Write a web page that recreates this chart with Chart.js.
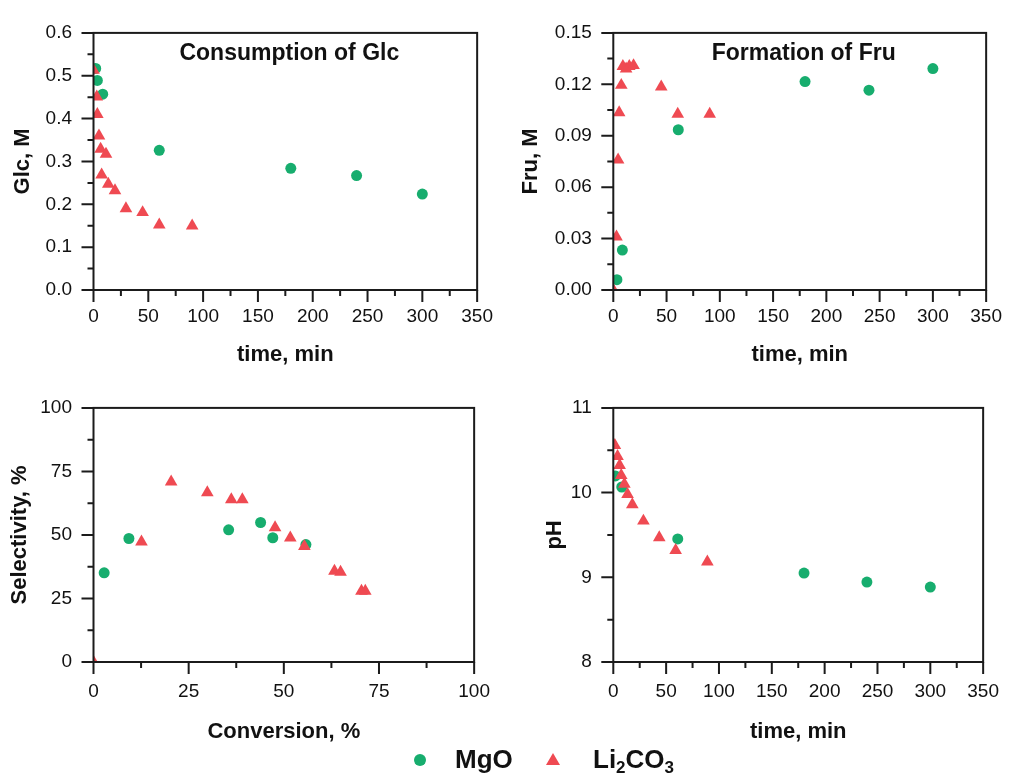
<!DOCTYPE html>
<html>
<head>
<meta charset="utf-8">
<script src="https://cdn.jsdelivr.net/npm/chart.js@4"></script>
<style>
  html, body { margin: 0; padding: 0; background: #fff; }
  #wrap { position: relative; width: 1017px; height: 776px; overflow: hidden; font-family: 'Liberation Sans', Arial, sans-serif; }
  canvas { position: absolute; }
  #legend { position: absolute; left: 0; top: 0; width: 1017px; height: 776px; pointer-events: none; z-index: 2; }
  #legend .dot { position: absolute; left: 414px; top: 754px; width: 12px; height: 12px; border-radius: 50%; background: #17ad6e; }
  #legend .tri { position: absolute; left: 546px; top: 753px; width: 0; height: 0;
    border-left: 7px solid transparent; border-right: 7px solid transparent; border-bottom: 12px solid #ef4a52; }
  #legend .lbl { position: absolute; top: 744px; font-weight: bold; font-size: 26px; line-height: 30px; color: #111; }
  #legend sub { font-size: 17px; line-height: 0; vertical-align: -5px; }
</style>
</head>
<body>
<div id="wrap">
  <canvas id="glc" width="508" height="375" style="left:0;top:0"></canvas>
  <canvas id="fru" width="509" height="375" style="left:508px;top:0"></canvas>
  <canvas id="sel" width="508" height="401" style="left:0;top:375px"></canvas>
  <canvas id="ph" width="509" height="401" style="left:508px;top:375px"></canvas>
  <div id="legend">
    <span class="dot"></span><span class="lbl" style="left:455px">MgO</span>
    <span class="tri"></span><span class="lbl" style="left:593px">Li<sub>2</sub>CO<sub>3</sub></span>
  </div>
</div>
<script>
// Glc / Fru / selectivity / pH, MgO vs Li2CO3
const GREEN = '#17ad6e';
const RED = '#ef4a52';
const FONT = "'Liberation Sans', Arial, sans-serif";

// Consumption of Glc
const glcMgoTime = [2, 3.5, 8.4, 60, 180, 240, 300];
const glcMgo = [0.517, 0.489, 0.457, 0.326, 0.284, 0.267, 0.224];
const glcLiTime = [0, 3, 3.5, 5, 6.5, 11.4, 7.4, 13.5, 19.6, 29.6, 44.8, 60, 90];
const glcLi = [0.513, 0.451, 0.410, 0.360, 0.329, 0.317, 0.269, 0.247, 0.232, 0.190, 0.181, 0.152, 0.150];

// Formation of Fru
const fruMgoTime = [3.4, 8.5, 61, 180, 240, 300];
const fruMgo = [0.006, 0.0233, 0.0935, 0.1216, 0.1166, 0.1292];
const fruLiTime = [0, 3, 4.5, 5.5, 7.5, 9, 12, 15, 19, 45, 60.5, 90.5];
const fruLi = [0, 0.031, 0.076, 0.1035, 0.1195, 0.1305, 0.129, 0.1305, 0.131, 0.1185, 0.1026, 0.1026];

// Selectivity vs conversion
const selMgoConv = [2.8, 9.3, 35.5, 43.9, 47.1, 55.8];
const selMgo = [35.1, 48.6, 52.0, 54.9, 48.9, 46.2];
const selLiConv = [0, 12.6, 20.4, 29.9, 36.2, 39.1, 47.7, 51.7, 55.4, 63.3, 64.9, 70.4, 71.4];
const selLi = [0, 47.3, 70.9, 66.7, 63.9, 63.9, 52.9, 48.9, 45.5, 35.8, 35.4, 27.9, 27.9];

// pH
const phMgoTime = [2, 8, 61, 180.5, 240, 300];
const phMgo = [10.197, 10.066, 9.453, 9.05, 8.944, 8.885];
const phLiTime = [1.5, 4, 6, 7.5, 10.5, 13.5, 18, 28.5, 43.5, 59, 89];
const phLi = [10.557, 10.428, 10.323, 10.205, 10.10, 9.98, 9.859, 9.665, 9.468, 9.319, 9.182];

Chart.defaults.font.family = FONT;
Chart.defaults.color = '#111';

// frame + outward major/minor ticks, placed with the chart's own scales
const frameTicks = {
  id: 'frameTicks',
  afterDatasetsDraw(chart) {
    const { ctx, chartArea: a, scales: { x, y } } = chart;
    ctx.save();
    ctx.strokeStyle = '#1b1b1b';
    ctx.lineWidth = 2;
    ctx.strokeRect(a.left, a.top, a.right - a.left, a.bottom - a.top);
    ctx.beginPath();
    x.ticks.forEach((t, i) => {
      const px = x.getPixelForValue(t.value);
      ctx.moveTo(px, a.bottom);
      ctx.lineTo(px, a.bottom + 12);
      if (i < x.ticks.length - 1) {
        const mx = x.getPixelForValue((t.value + x.ticks[i + 1].value) / 2);
        ctx.moveTo(mx, a.bottom);
        ctx.lineTo(mx, a.bottom + 6);
      }
    });
    y.ticks.forEach((t, i) => {
      const py = y.getPixelForValue(t.value);
      ctx.moveTo(a.left, py);
      ctx.lineTo(a.left - 12, py);
      if (i < y.ticks.length - 1) {
        const my = y.getPixelForValue((t.value + y.ticks[i + 1].value) / 2);
        ctx.moveTo(a.left, my);
        ctx.lineTo(a.left - 6, my);
      }
    });
    ctx.stroke();
    ctx.restore();
  }
};

// bold caption inside the plot, near the top
const panelTitle = {
  id: 'panelTitle',
  afterDraw(chart, args, opts) {
    if (!opts.text) return;
    const { ctx, chartArea: a } = chart;
    ctx.save();
    ctx.font = 'bold 23px ' + FONT;
    ctx.fillStyle = '#111';
    ctx.textAlign = 'center';
    ctx.textBaseline = 'middle';
    ctx.fillText(opts.text, (a.left + a.right) / 2 + 4, a.top + 21);
    ctx.restore();
  }
};

function pts(xs, ys) {
  return ys.map((v, i) => ({ x: xs[i], y: v }));
}

function makePanel(id, p) {
  const tickFont = { size: 19 };
  const titleFont = { size: 22, weight: 'bold' };
  return new Chart(document.getElementById(id), {
    type: 'scatter',
    data: {
      datasets: [{
        label: 'MgO',
        data: pts(p.mgoX, p.mgoY),
        pointStyle: 'circle',
        pointRadius: 5.5,
        backgroundColor: GREEN,
        borderWidth: 0,
        clip: 0,
        order: 2
      }, {
        label: 'Li2CO3',
        data: pts(p.liX, p.liY),
        pointStyle: 'triangle',
        pointRadius: 7.3,
        backgroundColor: RED,
        borderWidth: 0,
        clip: 0,
        order: 1
      }]
    },
    options: {
      responsive: false,
      animation: false,
      events: [],
      layout: { padding: { left: 0, top: p.padTop, right: p.padRight, bottom: 0 } },
      plugins: {
        legend: { display: false },
        tooltip: { enabled: false },
        panelTitle: { text: p.title }
      },
      scales: {
        x: {
          type: 'linear',
          min: p.xMin, max: p.xMax,
          grid: { display: false, drawTicks: false },
          border: { display: false },
          ticks: { stepSize: p.xStep, font: tickFont, color: '#111', padding: p.xTickPad, maxRotation: 0, autoSkip: false },
          title: { display: true, text: p.xTitle, font: titleFont, color: '#111', padding: { top: 0, bottom: p.xTitlePad } },
          afterFit: s => { s.height = p.xHeight; }
        },
        y: {
          type: 'linear',
          min: p.yMin, max: p.yMax,
          grid: { display: false, drawTicks: false },
          border: { display: false },
          ticks: { stepSize: p.yStep, font: tickFont, color: '#111', padding: 21.5, autoSkip: false, callback: p.yFmt },
          title: { display: true, text: p.yTitle, font: titleFont, color: '#111', padding: { top: p.yTitlePad, bottom: 0 } },
          afterFit: s => { s.width = p.yWidth; }
        }
      }
    },
    plugins: [frameTicks, panelTitle]
  });
}

makePanel('glc', {
  mgoX: glcMgoTime, mgoY: glcMgo, liX: glcLiTime, liY: glcLi,
  title: 'Consumption of Glc',
  xMin: 0, xMax: 350, xStep: 50, xTitle: 'time, min',
  yMin: 0, yMax: 0.6, yStep: 0.1, yTitle: 'Glc, M', yFmt: v => v.toFixed(1),
  padTop: 21, padRight: 30, yWidth: 93.5, xHeight: 85,
  xTickPad: 15, xTitlePad: 6.8, yTitlePad: 9.8
});

makePanel('fru', {
  mgoX: fruMgoTime, mgoY: fruMgo, liX: fruLiTime, liY: fruLi,
  title: 'Formation of Fru',
  xMin: 0, xMax: 350, xStep: 50, xTitle: 'time, min',
  yMin: 0, yMax: 0.15, yStep: 0.03, yTitle: 'Fru, M', yFmt: v => v.toFixed(2),
  padTop: 21, padRight: 19, yWidth: 105.3, xHeight: 85,
  xTickPad: 15, xTitlePad: 6.8, yTitlePad: 9.8
});

makePanel('sel', {
  mgoX: selMgoConv, mgoY: selMgo, liX: selLiConv, liY: selLi,
  title: '',
  xMin: 0, xMax: 100, xStep: 25, xTitle: 'Conversion, %',
  yMin: 0, yMax: 100, yStep: 25, yTitle: 'Selectivity, %', yFmt: v => v,
  padTop: 18, padRight: 30, yWidth: 93.5, xHeight: 114,
  xTickPad: 18, xTitlePad: 30.8, yTitlePad: 6.8
});

makePanel('ph', {
  mgoX: phMgoTime, mgoY: phMgo, liX: phLiTime, liY: phLi,
  title: '',
  xMin: 0, xMax: 350, xStep: 50, xTitle: 'time, min',
  yMin: 8, yMax: 11, yStep: 1, yTitle: 'pH', yFmt: v => v,
  padTop: 18, padRight: 19, yWidth: 105.3, xHeight: 114,
  xTickPad: 18, xTitlePad: 30.8, yTitlePad: 33.8
});
</script>
</body>
</html>
